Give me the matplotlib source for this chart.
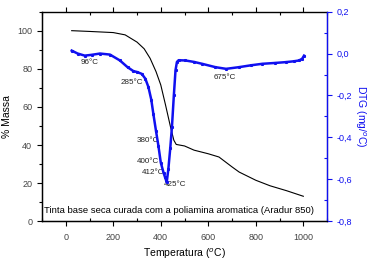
import matplotlib
matplotlib.use("Agg")
import matplotlib.pyplot as plt
from matplotlib.ticker import MultipleLocator, FuncFormatter

plt.rcParams['font.family'] = ['Liberation Sans', 'DejaVu Sans']

# TG curve (% massa)
tg_temp = [25, 100, 200, 250, 300, 330, 355, 380, 400, 420, 440, 455, 465, 500, 540, 600, 645, 700, 730, 800, 860, 930, 1000]
tg_mass = [100, 99.6, 99, 97.8, 94, 90.5, 85.5, 78.5, 71.5, 61, 50, 42.5, 40.3, 39.5, 37.3, 35.4, 33.7, 28.5, 25.8, 21.5, 18.6, 16, 13.1]

# DTG curve (mg/oC)
dtg_temp = [25, 50, 80, 110, 144, 186, 228, 260, 285, 300, 320, 335, 348, 360, 369, 380, 390, 400, 412, 418, 425,
            432, 440, 447, 455, 462, 468, 475, 503, 540, 574, 630, 675, 729, 780, 827, 880, 926, 960, 982, 995, 1003]
dtg_val = [0.014, 0.0, -0.01, -0.006, 0.0, -0.005, -0.033, -0.065, -0.084, -0.088, -0.097, -0.12, -0.16, -0.22,
           -0.29, -0.37, -0.44, -0.52, -0.57, -0.59, -0.614, -0.55, -0.45, -0.35, -0.2, -0.08, -0.04, -0.032,
           -0.033, -0.04, -0.049, -0.065, -0.073, -0.065, -0.056, -0.049, -0.045, -0.041, -0.037, -0.033, -0.025, -0.01]

# peak labels, placed in left-axis coordinates
peak_text = ["96°C", "285°C", "380°C", "400°C", "412°C", "425°C", "675°C"]
peak_x = [101, 278, 346, 346, 367, 462, 668]
peak_y = [83.4, 72.6, 42.2, 31.2, 25.6, 19.4, 75.4]

blue = "#1010f0"
gray = "#444444"

fig = plt.figure(figsize=(3.7, 2.64), dpi=100)
ax = fig.add_axes([0.1135, 0.162, 0.7705, 0.794])
ax2 = ax.twinx()

ax.plot(tg_temp, tg_mass, color="black", lw=0.8)
ax2.plot(dtg_temp, dtg_val, color=blue, lw=1.8)
ax2.plot(dtg_temp, dtg_val, color=blue, lw=0, marker="s", ms=1.2)

ax.set_xlim(-100, 1100)
ax.set_ylim(0, 110)
ax2.set_ylim(-0.8, 0.2)

ax.xaxis.set_major_locator(MultipleLocator(200))
ax.xaxis.set_minor_locator(MultipleLocator(100))
ax.yaxis.set_major_locator(MultipleLocator(20))
ax.yaxis.set_minor_locator(MultipleLocator(10))
ax2.yaxis.set_major_locator(MultipleLocator(0.2))
ax2.yaxis.set_minor_locator(MultipleLocator(0.1))
ax2.yaxis.set_major_formatter(FuncFormatter(lambda v, p: ("%.1f" % v).replace(".", ",")))

ax.tick_params(axis="x", which="major", direction="out", length=3.5, width=0.8, labelsize=6.5, labelcolor=gray, top=True, pad=5)
ax.tick_params(axis="x", which="minor", direction="in", length=2.5, width=0.8, top=True)
ax.tick_params(axis="y", which="major", direction="out", length=3.5, width=0.8, labelsize=6.5, labelcolor=gray)
ax.tick_params(axis="y", which="minor", direction="out", length=2, width=0.8)
ax2.tick_params(axis="y", which="major", direction="out", length=3.5, width=0.8, labelsize=6.5, colors=blue)
ax2.tick_params(axis="y", which="minor", direction="in", length=2.5, width=0.8, colors=blue)
for s in ["left", "bottom", "top"]:
    ax.spines[s].set_linewidth(1.0)
ax2.spines["right"].set_color(blue)
ax2.spines["right"].set_linewidth(1.0)
ax2.spines["top"].set_visible(False)

ax.set_xlabel("Temperatura ($^{o}$C)", fontsize=7.5, labelpad=3)
ax.set_ylabel("% Massa", fontsize=7.5, labelpad=4)
ax2.set_ylabel("DTG (mg/$^{o}$C)", fontsize=7.5, color=blue, rotation=270, labelpad=11)

for t, x, y in zip(peak_text, peak_x, peak_y):
    ax.text(x, y, t, fontsize=5.8, color="#222222", ha="center", va="center")

ax.text(-90, 3.5, "Tinta base seca curada com a poliamina aromatica (Aradur 850)", fontsize=6.8, color="black", ha="left", va="bottom")

fig.savefig("out.png", dpi=100)
